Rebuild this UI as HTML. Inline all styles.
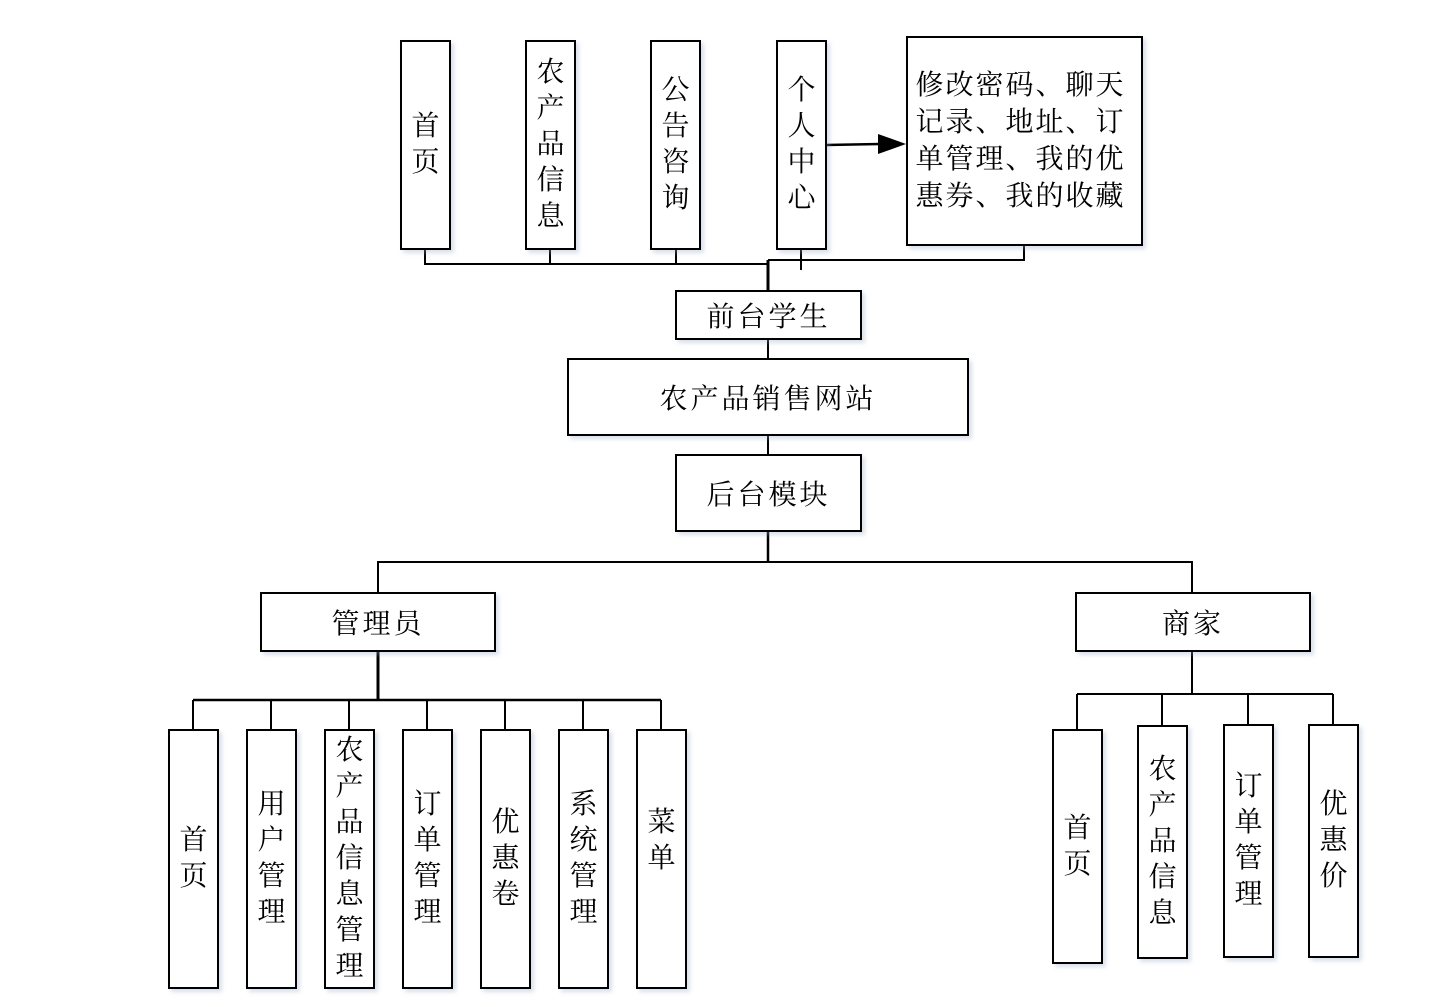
<!DOCTYPE html>
<html><head><meta charset="utf-8">
<style>
html,body{margin:0;padding:0;background:#fff;}
body{width:1445px;height:1007px;position:relative;overflow:hidden;
font-family:"Liberation Serif","Noto Serif CJK SC",serif;color:#000;}
.b{position:absolute;box-sizing:border-box;border:2px solid #000;background:#fff;
display:flex;align-items:center;justify-content:center;text-align:center;
box-shadow:3px 3px 4px rgba(150,170,200,0.35);}
.v{font-size:28px;line-height:36px;}
.h{font-size:28px;letter-spacing:3px;}
svg{position:absolute;left:0;top:0;}
</style></head><body>
<svg width="1445" height="1007">
<g stroke="#000" stroke-width="2" fill="none">
<polyline points="425,249 425,264 768,264"/>
<line x1="550" y1="249" x2="550" y2="264"/>
<line x1="676" y1="249" x2="676" y2="264"/>
<polyline points="1024,245 1024,260 768,260"/>
<line x1="801" y1="249" x2="801" y2="270"/>
<line x1="768" y1="260" x2="768" y2="290" stroke-width="3"/>
<line x1="768" y1="339" x2="768" y2="358"/>
<line x1="768" y1="435" x2="768" y2="454"/>
<line x1="768" y1="531" x2="768" y2="562" stroke-width="2.5"/>
<polyline points="378,592 378,562 1192,562 1192,592"/>
<line x1="378" y1="651" x2="378" y2="700" stroke-width="3"/>
<line x1="193" y1="700" x2="661" y2="700" stroke-width="2.5"/>
<line x1="193" y1="700" x2="193" y2="729"/>
<line x1="271" y1="700" x2="271" y2="729"/>
<line x1="349" y1="700" x2="349" y2="729"/>
<line x1="427" y1="700" x2="427" y2="729"/>
<line x1="505" y1="700" x2="505" y2="729"/>
<line x1="583" y1="700" x2="583" y2="729"/>
<line x1="661" y1="700" x2="661" y2="729"/>
<line x1="1192" y1="651" x2="1192" y2="694"/>
<line x1="1077" y1="694" x2="1333" y2="694"/>
<line x1="1077" y1="694" x2="1077" y2="729"/>
<line x1="1162" y1="694" x2="1162" y2="725"/>
<line x1="1248" y1="694" x2="1248" y2="724"/>
<line x1="1333" y1="694" x2="1333" y2="724"/>
<line x1="826" y1="145" x2="880" y2="144" stroke-width="2.5"/>
</g>
<polygon points="878,134 906,144 878,154" fill="#000"/>
</svg>

<div class="b v" style="left:400px;top:40px;width:51px;height:210px;">首<br>页</div>
<div class="b v" style="left:525px;top:40px;width:51px;height:210px;">农<br>产<br>品<br>信<br>息</div>
<div class="b v" style="left:650px;top:40px;width:51px;height:210px;">公<br>告<br>咨<br>询</div>
<div class="b v" style="left:776px;top:40px;width:51px;height:210px;">个<br>人<br>中<br>心</div>
<div class="b" style="left:906px;top:36px;width:237px;height:210px;">
<div style="font-size:28px;line-height:37px;letter-spacing:2px;text-align:left;width:218px;">修改密码、聊天记录、地址、订单管理、我的优惠券、我的收藏</div></div>

<div class="b h" style="left:675px;top:290px;width:187px;height:50px;">前台学生</div>
<div class="b h" style="left:567px;top:358px;width:402px;height:78px;">农产品销售网站</div>
<div class="b h" style="left:675px;top:454px;width:187px;height:78px;">后台模块</div>
<div class="b h" style="left:260px;top:592px;width:236px;height:60px;">管理员</div>
<div class="b h" style="left:1075px;top:592px;width:236px;height:60px;">商家</div>

<div class="b v" style="left:168px;top:729px;width:51px;height:260px;">首<br>页</div>
<div class="b v" style="left:246px;top:729px;width:51px;height:260px;">用<br>户<br>管<br>理</div>
<div class="b v" style="left:324px;top:729px;width:51px;height:260px;">农<br>产<br>品<br>信<br>息<br>管<br>理</div>
<div class="b v" style="left:402px;top:729px;width:51px;height:260px;">订<br>单<br>管<br>理</div>
<div class="b v" style="left:480px;top:729px;width:51px;height:260px;">优<br>惠<br>卷</div>
<div class="b v" style="left:558px;top:729px;width:51px;height:260px;">系<br>统<br>管<br>理</div>
<div class="b v" style="left:636px;top:729px;width:51px;height:260px;padding-bottom:36px;">菜<br>单</div>

<div class="b v" style="left:1052px;top:729px;width:51px;height:235px;">首<br>页</div>
<div class="b v" style="left:1137px;top:725px;width:51px;height:234px;">农<br>产<br>品<br>信<br>息</div>
<div class="b v" style="left:1223px;top:724px;width:51px;height:234px;">订<br>单<br>管<br>理</div>
<div class="b v" style="left:1308px;top:724px;width:51px;height:234px;">优<br>惠<br>价</div>
</body></html>
